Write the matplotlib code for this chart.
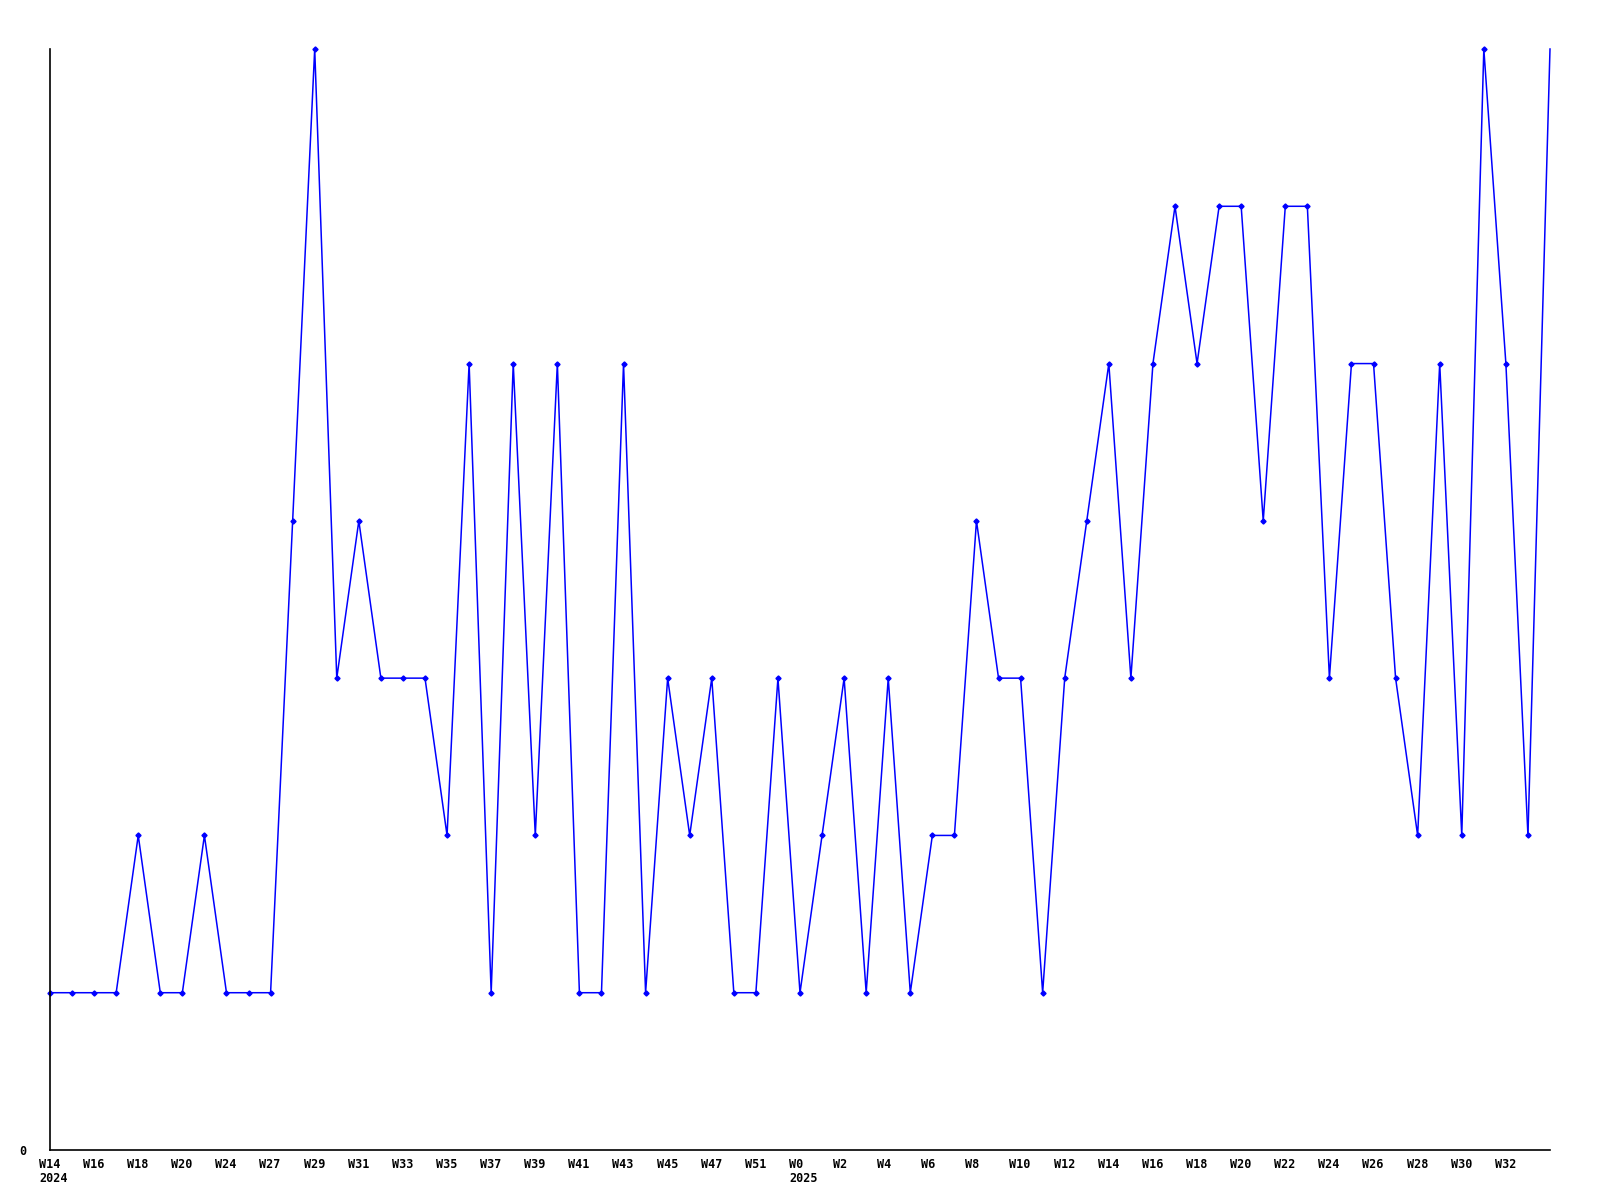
import matplotlib
matplotlib.use("Agg")
import matplotlib.pyplot as plt

weeks = ["W14", "", "W16", "", "W18", "", "W20", "", "W24", "", "W27", "",
         "W29", "", "W31", "", "W33", "", "W35", "", "W37", "", "W39", "",
         "W41", "", "W43", "", "W45", "", "W47", "", "W51", "", "W0", "",
         "W2", "", "W4", "", "W6", "", "W8", "", "W10", "", "W12", "",
         "W14", "", "W16", "", "W18", "", "W20", "", "W22", "", "W24", "",
         "W26", "", "W28", "", "W30", "", "W32", "", ""]
years = {0: "2024", 34: "2025"}
values = [1, 1, 1, 1, 2, 1, 1, 2, 1, 1, 1, 4, 7, 3, 4, 3, 3, 3, 2, 5,
          1, 5, 2, 5, 1, 1, 5, 1, 3, 2, 3, 1, 1, 3, 1, 2, 3, 1, 3, 1,
          2, 2, 4, 3, 3, 1, 3, 4, 5, 3, 5, 6, 5, 6, 6, 4, 6, 6, 3, 5,
          5, 3, 2, 5, 2, 7, 5, 2, 7]

font = dict(fontfamily="DejaVu Sans Mono", fontweight="bold", fontsize=8.5)

fig = plt.figure(figsize=(16, 12), dpi=100)
ax = fig.add_axes([50/1600, 1 - 1150/1200, 1500/1600, 1101/1200])
x = list(range(len(values)))
ax.plot(x[:-1], values[:-1], color="#0000ff", lw=1.1, marker="D", ms=2.6,
        clip_on=False)
ax.plot(x[-2:], values[-2:], color="#0000ff", lw=1.1, clip_on=False)
ax.set_xlim(0, len(values) - 1)
ax.set_ylim(0, 7)

tick_pos = [i for i, w in enumerate(weeks) if w]
ax.set_xticks(tick_pos)
ax.set_xticklabels([])
for i in tick_pos:
    ax.annotate(weeks[i], xy=(i, 0), xycoords=("data", "axes fraction"),
                xytext=(-8, -6), textcoords="offset points",
                ha="left", va="top", **font)
for i, yr in years.items():
    ax.annotate(yr, xy=(i, 0), xycoords=("data", "axes fraction"),
                xytext=(-8, -16), textcoords="offset points",
                ha="left", va="top", **font)
ax.set_yticks([0])
ax.set_yticklabels(["0"], **font)
ax.tick_params(axis="both", length=0)
ax.tick_params(axis="y", pad=17)
for s in ["top", "right"]:
    ax.spines[s].set_visible(False)
for s in ["left", "bottom"]:
    ax.spines[s].set_linewidth(1.2)
    ax.spines[s].set_color("black")

fig.savefig("out.png", dpi=100)
